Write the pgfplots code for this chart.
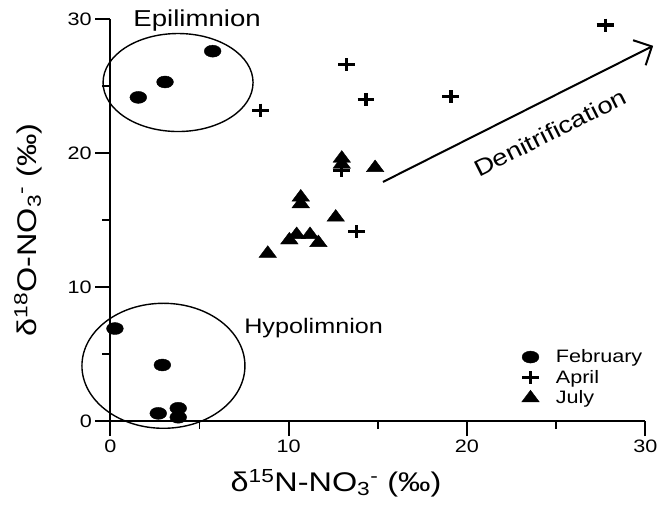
\documentclass[border=0pt]{standalone}
\usepackage{fontspec}
\setmainfont{Liberation Sans}[FakeStretch=1.2]
\usepackage{pgfplots}
\pgfplotsset{compat=1.18}
\usetikzlibrary{arrows.meta}
\begin{document}
\begin{tikzpicture}
\useasboundingbox (-110.3pt,-83pt) rectangle (551.7pt,421pt);
\begin{axis}[
 at={(0pt,0pt)}, anchor=south west,
 scale only axis, width=535pt, height=402pt,
 xmin=0, xmax=30, ymin=0, ymax=30,
 axis lines=left, axis line style={-, line width=1.8pt},
 clip=false,
 xtick={0,10,20,30}, ytick={0,10,20,30},
 minor xtick={5,15,25}, minor ytick={5,15,25},
 tick align=outside, major tick length=15pt, minor tick length=8pt,
 every tick/.style={black, line width=1.8pt},
 /pgf/number format/assume math mode=true,
 ticklabel style={font=\fontsize{18}{20}\selectfont},
 xlabel={δ\textsuperscript{15}N-NO\textsubscript{3}\textsuperscript{-} (‰)},
 ylabel={δ\textsuperscript{18}O-NO\textsubscript{3}\textsuperscript{-} (‰)},
 xlabel style={font=\fontsize{27}{30}\selectfont, at={(axis description cs:0.4219,-0.1542)}, anchor=center},
 ylabel style={font=\fontsize{27}{30}\selectfont, at={(axis description cs:-0.1538,0.475)}, anchor=center},
 legend style={at={(axis cs:23.06,5.55)}, anchor=north west, draw=none, fill=none,
   font=\fontsize{18}{20}\selectfont, row sep=0pt, inner sep=0pt},
 legend cell align=left,
 legend image code/.code={
   \path[draw=none, fill=none] (0cm,-0.36cm) rectangle (1.12cm,0.36cm);
   \draw[#1] plot coordinates {(0.3cm,0cm)};
 },
]
\addplot[only marks, mark=*, mark size=6pt, mark options={xscale=1.4, fill=black, draw=black}] coordinates {
 (1.57,24.15) (3.07,25.3) (5.74,27.6) (0.26,6.9) (2.92,4.18) (2.69,0.57) (3.81,0.95) (3.81,0.28)};
\addlegendentry{February}
\addplot[only marks, mark=+, mark size=6.5pt, mark options={xscale=1.3, line width=3.2pt, draw=black}] coordinates {
 (8.43,23.2) (13.26,26.6) (14.34,24.0) (19.1,24.2) (27.75,29.55) (12.98,18.68) (13.82,14.13)};
\addlegendentry{April}
\addplot[only marks, mark=triangle*, mark size=7.8pt, mark options={xscale=1.3, fill=black, draw=black}] coordinates {
 (12.98,19.6) (12.98,19.15) (14.85,18.9) (10.68,16.7) (10.68,16.2) (12.64,15.2) (10.45,13.9) (10.04,13.5) (11.2,13.9) (11.67,13.3) (8.83,12.5)};
\addlegendentry{July}
\draw[line width=1.4pt] (axis cs:3.8,25.26) ellipse [x radius=75pt, y radius=49pt];
\draw[line width=1.4pt] (axis cs:2.98,4.12) ellipse [x radius=81.5pt, y radius=62.5pt];
\draw[line width=2pt, -{Straight Barb[length=14pt, width=28pt, line width=2pt]}] (axis cs:15.29,17.84) -- (axis cs:30.44,28.0);
\node[rotate=26.7, font=\fontsize{23}{26}\selectfont] at (axis cs:24.66,21.5) {Denitrification};
\node[font=\fontsize{23}{26}\selectfont] at (axis cs:4.87,29.9) {Epilimnion};
\node[font=\fontsize{21}{24}\selectfont] at (axis cs:11.4,6.94) {Hypolimnion};
\end{axis}
\end{tikzpicture}
\end{document}
